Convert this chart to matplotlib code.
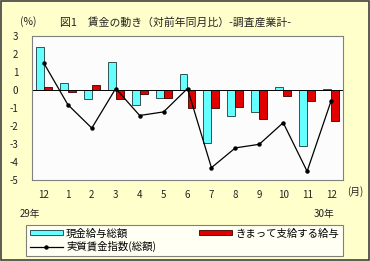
import matplotlib
matplotlib.use('Agg')
import matplotlib.pyplot as plt
from matplotlib.patches import Rectangle
import numpy as np

plt.rcParams['font.family'] = ['Noto Sans CJK JP', 'DejaVu Sans']

# データ
months = ['12', '1', '2', '3', '4', '5', '6', '7', '8', '9', '10', '11', '12']
cash_total = [2.4, 0.4, -0.5, 1.6, -0.8, -0.4, 0.9, -2.9, -1.4, -1.2, 0.2, -3.1, 0.1]
scheduled = [0.2, -0.1, 0.3, -0.5, -0.2, -0.4, -1.0, -1.0, -0.9, -1.6, -0.3, -0.6, -1.7]
real_wage = [1.5, -0.8, -2.1, 0.1, -1.4, -1.2, 0.1, -4.3, -3.2, -3.0, -1.8, -4.5, -0.6]
yticks = [3, 2, 1, 0, -1, -2, -3, -4, -5]

BG = '#FFFFCC'
CYAN = '#66FFFF'
RED = '#E00000'

fig = plt.figure(figsize=(3.7, 2.61), dpi=100, facecolor=BG)
ax = fig.add_axes([32 / 370, 80.7 / 261, 311 / 370, 144 / 261])
ax.set_facecolor('#FCFCFC')

x = np.arange(len(months))
w = 1 / 3
b1 = ax.bar(x - w / 2, cash_total, w, color=CYAN, edgecolor='#1a3a3a', linewidth=0.6,
            label='現金給与総額')
b2 = ax.bar(x + w / 2, scheduled, w, color=RED, edgecolor='#3a0000', linewidth=0.6,
            label='きまって支給する給与')
ln, = ax.plot(x, real_wage, color='black', lw=0.9, marker='o', markersize=2.2,
              label='実質賃金指数(総額)')
ax.axhline(0, color='black', lw=0.7, zorder=1)

ax.set_xlim(-0.5, len(months) - 0.5)
ax.set_ylim(-5, 3)
ax.set_yticks(yticks)
ax.set_yticklabels([str(v) for v in yticks])
ax.set_xticks(x)
ax.set_xticklabels(months)
ax.tick_params(length=0, labelsize=7, colors='#222222')
ax.tick_params(axis='y', pad=10)
ax.tick_params(axis='x', pad=7)
for s in ax.spines.values():
    s.set_color('#808080')
    s.set_linewidth(0.8)

# テキスト
fig.text(28 / 370, 1 - 22 / 261, '(%)', fontsize=7.5, ha='center', va='center', color='#222')
fig.text(60 / 370, 1 - 22 / 261, '図1　賃金の動き（対前年同月比）-調査産業計-', fontsize=7.8,
         ha='left', va='center', color='#222')
fig.text(355 / 370, 1 - 192 / 261, '(月)', fontsize=7, ha='center', va='center', color='#222')
fig.text(30 / 370, 1 - 214 / 261, '29年', fontsize=7, ha='center', va='center', color='#222')
fig.text(324 / 370, 1 - 214 / 261, '30年', fontsize=7, ha='center', va='center', color='#222')

leg = fig.legend([b1, ln, b2], ['現金給与総額', '実質賃金指数(総額)', 'きまって支給する給与'],
                 ncol=2, loc='lower left',
                 bbox_to_anchor=(26 / 370, 5 / 261, 317 / 370, 33 / 261), mode='expand',
                 fontsize=7.5, frameon=True, fancybox=False, handlelength=3.2, handleheight=0.35,
                 numpoints=1, borderpad=0.35, labelspacing=0.25, handletextpad=0.3,
                 columnspacing=1.0, borderaxespad=0)
leg.get_frame().set_edgecolor('#606060')
leg.get_frame().set_linewidth(0.8)
leg.get_frame().set_facecolor('white')

# 外枠
fig.patches.append(Rectangle((0.002, 0.003), 0.995, 0.993, transform=fig.transFigure,
                             fill=False, edgecolor='#404040', linewidth=1.2))

fig.savefig('out.png', dpi=100, facecolor=BG)
